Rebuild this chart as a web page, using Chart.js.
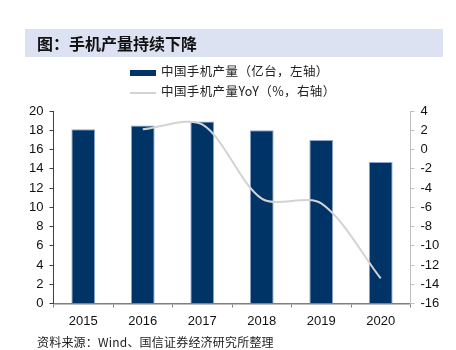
<!DOCTYPE html>
<html>
<head>
<meta charset="utf-8">
<script src="https://cdn.jsdelivr.net/npm/chart.js@4/dist/chart.umd.min.js"></script>
<style>
    body{margin:0;width:456px;height:350px;background:#fff;position:relative;overflow:hidden;font-family:"Noto Sans CJK SC","Liberation Sans",sans-serif;}
    #title{position:absolute;left:25px;top:29px;width:418px;height:28px;background:#dce2f2;}
    #title span{position:absolute;left:12px;top:3px;font-size:16px;font-weight:bold;color:#111;line-height:22px;}
    .legend{position:absolute;left:130px;font-size:12.5px;color:#222;line-height:16px;letter-spacing:0.4px;}
    .legend i{display:inline-block;width:26px;vertical-align:middle;margin-right:5px;}
    #source{position:absolute;left:37px;top:334px;font-size:12px;color:#222;line-height:16px;letter-spacing:0.2px;}
    #wrap{position:absolute;left:0;top:0;width:456px;height:350px;}
</style>
</head>
<body>
<div id="wrap"><canvas id="chart" width="456" height="350"></canvas></div>
<div id="title"><span>图：手机产量持续下降</span></div>
<div class="legend" style="top:63px"><i style="height:6px;background:#003366"></i>中国手机产量（亿台，左轴）</div>
<div class="legend" style="top:83px"><i style="height:2px;background:#d3d3d3"></i>中国手机产量YoY（%，右轴）</div>
<div id="source">资料来源：Wind、国信证券经济研究所整理</div>
<script>
const years = ['2015', '2016', '2017', '2018', '2019', '2020'];
const output = [18.1, 18.5, 18.9, 18.0, 17.0, 14.7];      // 亿台
const outputYoY = [null, 2.1, 2.6, -5.1, -5.6, -13.4];    // %

const tickFont = {family: '"Liberation Sans", Arial, sans-serif', size: 13};

const ctx = document.getElementById('chart').getContext('2d');
const chart = new Chart(ctx, {
    data: {
        labels: years,
        datasets: [{
            type: 'line',
            label: '中国手机产量YoY（%，右轴）',
            data: outputYoY,
            yAxisID: 'y1',
            borderColor: '#d3d3d3',
            borderWidth: 2,
            pointRadius: 0,
            tension: 0.3,
            fill: false
        }, {
            type: 'bar',
            label: '中国手机产量（亿台，左轴）',
            data: output,
            yAxisID: 'y',
            backgroundColor: '#003366',
            borderColor: '#8ea6cf',
            borderWidth: 1,
            categoryPercentage: 1,
            barPercentage: 0.4
        }]
    },
    options: {
        responsive: false,
        animation: false,
        layout: {padding: {top: 111, left: 0, right: 0, bottom: 0}},
        plugins: {legend: {display: false}, tooltip: {enabled: false}},
        scales: {
            x: {
                grid: {display: true, drawOnChartArea: false, offset: true, tickLength: 4, color: '#808080'},
                border: {color: '#808080', width: 1.5},
                ticks: {font: tickFont, color: '#111', padding: 6},
                afterFit: s => { s.height = 46.5; }
            },
            y: {
                position: 'left',
                min: 0, max: 20,
                grid: {drawOnChartArea: false, tickLength: 4, color: '#404040'},
                border: {color: '#404040'},
                ticks: {stepSize: 2, font: tickFont, color: '#111', padding: 6},
                afterFit: s => { s.width = 53.5; }
            },
            y1: {
                position: 'right',
                min: -16, max: 4,
                grid: {drawOnChartArea: false, tickLength: 4, color: '#c0c0c0'},
                border: {color: '#c0c0c0'},
                ticks: {stepSize: 2, font: tickFont, color: '#111', padding: 6},
                afterFit: s => { s.width = 45.5; }
            }
        }
    }
});
</script>
</body>
</html>
